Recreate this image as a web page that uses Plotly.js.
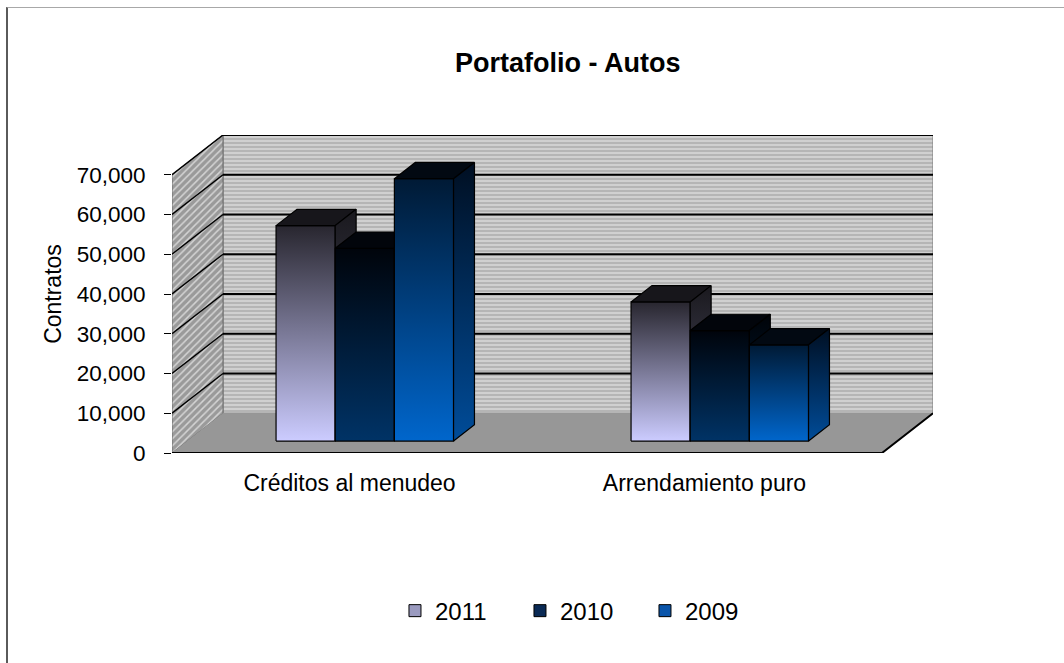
<!DOCTYPE html>
<html>
<head>
<meta charset="utf-8">
<script src="https://cdn.plot.ly/plotly-3.0.1.min.js"></script>
<style>
html, body { margin: 0; padding: 0; background: #ffffff; }
#chart { position: absolute; left: 0; top: 0; width: 1064px; height: 663px; }
#frame { position: absolute; left: 6px; top: 7px; width: 1200px; height: 800px;
         border-left: 2px solid #5a5a5a; border-top: 1px solid #a8a8a8;
         background: transparent; pointer-events: none; }
</style>
</head>
<body>
<div id="chart"></div>
<div id="frame"></div>
<script>
// ---------------- data ----------------
const categories = ['Créditos al menudeo', 'Arrendamiento puro'];
const seriesNames = ['2011', '2010', '2009'];
const values2011 = [54200, 35000];
const values2010 = [48500, 27800];
const values2009 = [66000, 24200];
const yTickValues = [0, 10000, 20000, 30000, 40000, 50000, 60000, 70000];

// ---------------- 3D look (styles / geometry constants) ----------------
const DEPTH_X = 0.1437;     // wall depth, in category units
const DEPTH_Y = 10000;      // wall depth, in value units
const WALL_TOP = 70000;
const BAR_FRONT = 0.3;      // bar front plane, as fraction of wall depth
const BAR_DEPTH = 0.41;     // bar depth, as fraction of wall depth
const GROUP_WIDTH = 0.5;    // 1 - bargap
const FONT = 'Arial, "Liberation Sans", sans-serif';

const seriesValues = [values2011, values2010, values2009];
const styles = [
  { legend: '#9a9abf', front: ['#ccccff', '#28262f'], side: ['#55556e', '#1a191e'], top: '#17161b' },
  { legend: '#0a2a55', front: ['#003366', '#00040b'], side: ['#002244', '#000308'], top: '#02050b' },
  { legend: '#0a55aa', front: ['#0066cc', '#001a35'], side: ['#004c99', '#000f22'], top: '#020912' }
];

const traces = [];

// bar traces (front faces, also legend entries)
seriesValues.forEach((vals, s) => {
  traces.push({
    type: 'bar',
    name: seriesNames[s],
    x: categories.map((c, i) => i + BAR_FRONT * DEPTH_X),
    y: vals,
    base: BAR_FRONT * DEPTH_Y,
    marker: { color: styles[s].legend, line: { color: '#000000', width: 1 } },
    hoverinfo: 'skip',
    showlegend: true
  });
});

function poly(pts, extra) {
  return Object.assign({
    type: 'scatter', mode: 'lines', fill: 'toself',
    x: pts.map(p => p[0]), y: pts.map(p => p[1]),
    hoverinfo: 'skip', showlegend: false
  }, extra);
}

const xL = -0.5, xR = categories.length - 0.5;

// back wall
traces.push(poly([[xL + DEPTH_X, DEPTH_Y], [xR + DEPTH_X, DEPTH_Y], [xR + DEPTH_X, WALL_TOP + DEPTH_Y],
                  [xL + DEPTH_X, WALL_TOP + DEPTH_Y], [xL + DEPTH_X, DEPTH_Y]], {
  fillcolor: '#c0c0c0',
  fillpattern: { shape: '-', size: 4, solidity: 0.45, fgcolor: '#d3d3d3', bgcolor: '#b5b5b5' },
  line: { color: '#7a7a7a', width: 1 }
}));
// side wall
traces.push(poly([[xL, 0], [xL + DEPTH_X, DEPTH_Y], [xL + DEPTH_X, WALL_TOP + DEPTH_Y], [xL, WALL_TOP], [xL, 0]], {
  fillcolor: '#a8a8a8',
  fillpattern: { shape: '/', size: 5, solidity: 0.3, fgcolor: '#d4d4d4', bgcolor: '#9a9a9a' },
  line: { color: '#6a6a6a', width: 1 }
}));
// floor
traces.push(poly([[xL, 0], [xR, 0], [xR + DEPTH_X, DEPTH_Y], [xL + DEPTH_X, DEPTH_Y], [xL, 0]], {
  fillcolor: '#979797', line: { color: '#979797', width: 0.5 }
}));
// gridlines (back wall and side wall)
const gBx = [], gBy = [], gSx = [], gSy = [];
yTickValues.filter(v => v > 0).forEach(v => {
  gBx.push(xL + DEPTH_X, xR + DEPTH_X, null); gBy.push(v + DEPTH_Y, v + DEPTH_Y, null);
  gSx.push(xL, xL + DEPTH_X, null); gSy.push(v, v + DEPTH_Y, null);
});
traces.push({ type: 'scatter', mode: 'lines', x: gBx, y: gBy, line: { color: '#000000', width: 2 },
              hoverinfo: 'skip', showlegend: false });
traces.push({ type: 'scatter', mode: 'lines', x: gSx, y: gSy, line: { color: '#000000', width: 1.5 },
              hoverinfo: 'skip', showlegend: false });
// floor front & right edges
traces.push({ type: 'scatter', mode: 'lines', x: [xL, xR, xR + DEPTH_X], y: [0, 0, DEPTH_Y],
              line: { color: '#000000', width: 2 }, hoverinfo: 'skip', showlegend: false });

// 3D bar faces, painter's order: group by group, left to right
const bw = GROUP_WIDTH / seriesValues.length;
const dx = BAR_DEPTH * DEPTH_X, dy = BAR_DEPTH * DEPTH_Y;
categories.forEach((c, i) => {
  seriesValues.forEach((vals, s) => {
    const st = styles[s];
    const cx = i + BAR_FRONT * DEPTH_X;
    const x0 = cx - GROUP_WIDTH / 2 + s * bw, x1 = x0 + bw;
    const y0 = BAR_FRONT * DEPTH_Y, y1 = y0 + vals[i];
    const edge = { color: '#000000', width: 1.2 };
    traces.push(poly([[x0, y0], [x1, y0], [x1, y1], [x0, y1], [x0, y0]], {
      fillgradient: { type: 'vertical', start: y0, stop: y1,
                      colorscale: [[0, st.front[0]], [1, st.front[1]]] },
      line: edge
    }));
    traces.push(poly([[x0, y1], [x1, y1], [x1 + dx, y1 + dy], [x0 + dx, y1 + dy], [x0, y1]], {
      fillcolor: st.top, line: edge
    }));
    traces.push(poly([[x1, y0], [x1 + dx, y0 + dy], [x1 + dx, y1 + dy], [x1, y1], [x1, y0]], {
      fillgradient: { type: 'vertical', start: y0, stop: y1 + dy,
                      colorscale: [[0, st.side[0]], [1, st.side[1]]] },
      line: edge
    }));
  });
});

const layout = {
  width: 1064, height: 663,
  margin: { l: 172, r: 131, t: 135, b: 210 },
  paper_bgcolor: 'rgba(0,0,0,0)', plot_bgcolor: 'rgba(0,0,0,0)',
  font: { family: FONT, color: '#000000' },
  title: { text: 'Portafolio - Autos', font: { family: FONT, size: 27, weight: 700, color: '#000000' },
           x: 0.52, xref: 'paper', xanchor: 'center', y: 0.905, yref: 'container', yanchor: 'middle' },
  barmode: 'group', bargap: 1 - GROUP_WIDTH, bargroupgap: 0,
  showlegend: true,
  legend: { orientation: 'h', x: 0.293, xanchor: 'left', y: -0.497, yanchor: 'middle',
            font: { family: FONT, size: 24, color: '#000000' }, entrywidth: 80, bgcolor: 'rgba(0,0,0,0)',
            traceorder: 'normal' },
  xaxis: { range: [xL, xR + DEPTH_X], tickvals: categories.map((c, i) => i), ticktext: categories,
           showgrid: false, zeroline: false, showline: false, ticks: '', ticklabelstandoff: 14,
           tickfont: { family: FONT, size: 23, color: '#000000' }, fixedrange: true },
  yaxis: { range: [0, WALL_TOP + DEPTH_Y], tickvals: yTickValues, tickformat: ',d',
           showgrid: false, zeroline: false, showline: false, ticks: 'outside', ticklen: 7,
           tickcolor: '#000000', tickwidth: 1, ticklabelstandoff: 14,
           tickfont: { family: FONT, size: 22.5, color: '#000000' },
           title: { text: 'Contratos', font: { family: FONT, size: 23, color: '#000000' }, standoff: 8 },
           fixedrange: true }
};

Plotly.newPlot('chart', traces, layout, { displayModeBar: false, staticPlot: true });
</script>
</body>
</html>
